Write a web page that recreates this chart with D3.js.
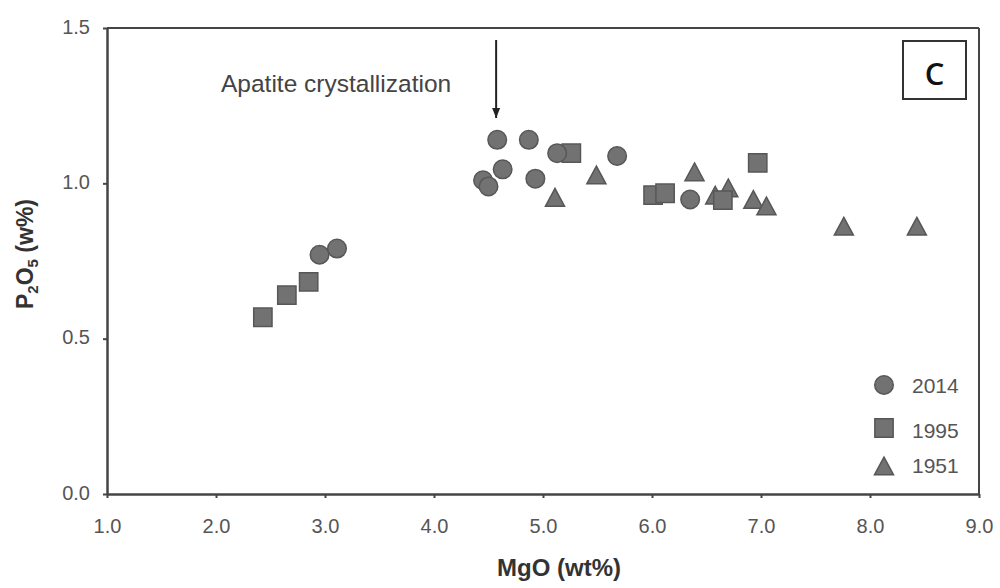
<!DOCTYPE html>
<html>
<head>
<meta charset="utf-8">
<script src="https://cdn.jsdelivr.net/npm/d3@7"></script>
<style>
  body { margin: 0; background: #fff; }
  svg { display: block; font-family: "Liberation Sans", Arial, sans-serif; }
</style>
</head>
<body>
<svg id="chart" width="1000" height="588"></svg>
<script>
// ---- Data ----
const seriesNames = ["2014", "1995", "1951"];
const mgo2014 = [4.58, 4.87, 4.63, 4.45, 4.50, 4.93, 5.13, 5.68, 6.35, 2.95, 3.11];
const p2o5_2014 = [1.14, 1.14, 1.045, 1.01, 0.99, 1.015, 1.097, 1.088, 0.948, 0.77, 0.79];
const mgo1995 = [5.26, 6.01, 6.12, 6.65, 6.97, 2.43, 2.65, 2.85];
const p2o5_1995 = [1.097, 0.962, 0.968, 0.946, 1.066, 0.569, 0.64, 0.683];
const mgo1951 = [5.11, 5.49, 6.39, 6.58, 6.70, 6.93, 7.05, 7.76, 8.43];
const p2o5_1951 = [0.955, 1.027, 1.037, 0.962, 0.985, 0.948, 0.927, 0.862, 0.862];
const xTicks = [1, 2, 3, 4, 5, 6, 7, 8, 9];
const yTicks = [0, 0.5, 1.0, 1.5];
const annotationText = "Apatite crystallization";
const annotationX = 4.57;
const panelLabel = "C";

// ---- Layout ----
const svg = d3.select("#chart");
const mLeft = 107, mRight = 979, mTop = 28, mBottom = 494;
const x = d3.scaleLinear().domain([1, 9]).range([mLeft, mRight]);
const y = d3.scaleLinear().domain([0, 1.5]).range([mBottom, mTop]);

const axisColor = "#454545";
const textColor = "#555";
const fillColor = "#727272";
const strokeColor = "#575757";

// Frame (top and right)
svg.append("line").attr("x1", mLeft).attr("x2", mRight).attr("y1", mTop).attr("y2", mTop)
  .attr("stroke", axisColor).attr("stroke-width", 2);
svg.append("line").attr("x1", mRight).attr("x2", mRight).attr("y1", mTop).attr("y2", mBottom)
  .attr("stroke", axisColor).attr("stroke-width", 2);

// X axis
const xAxis = svg.append("g").attr("transform", `translate(0,${mBottom})`)
  .call(d3.axisBottom(x).tickValues(xTicks).tickFormat(d3.format(".1f")).tickSizeInner(4).tickSizeOuter(0).tickPadding(21));
xAxis.select(".domain").attr("stroke", axisColor).attr("stroke-width", 2.5);
xAxis.selectAll(".tick line").attr("stroke", axisColor).attr("stroke-width", 2);
xAxis.selectAll(".tick text").attr("fill", textColor)
  .style("font-size", "20px").style("font-family", "Liberation Sans, Arial, sans-serif");

// Y axis
const yAxis = svg.append("g").attr("transform", `translate(${mLeft},0)`)
  .call(d3.axisLeft(y).tickValues(yTicks).tickFormat(d3.format(".1f")).tickSizeInner(4).tickSizeOuter(0).tickPadding(13));
yAxis.select(".domain").attr("stroke", axisColor).attr("stroke-width", 2.5);
yAxis.selectAll(".tick line").attr("stroke", axisColor).attr("stroke-width", 2);
yAxis.selectAll(".tick text").attr("fill", textColor).attr("dy", "0.25em")
  .style("font-size", "20px").style("font-family", "Liberation Sans, Arial, sans-serif");

// Axis titles
svg.append("text").attr("x", 559).attr("y", 576).attr("text-anchor", "middle")
  .style("font-size", "24px").attr("font-weight", "bold").attr("fill", "#333").text("MgO (wt%)");

const yTitle = svg.append("text").attr("transform", "translate(33,254) rotate(-90)")
  .attr("text-anchor", "middle").style("font-size", "23px").attr("font-weight", "bold").attr("fill", "#333");
yTitle.append("tspan").text("P");
yTitle.append("tspan").style("font-size", "15px").attr("dy", 5).text("2");
yTitle.append("tspan").attr("dy", -5).text("O");
yTitle.append("tspan").style("font-size", "15px").attr("dy", 5).text("5");
yTitle.append("tspan").attr("dy", -5).text(" (w%)");

// Markers
const triType = {
  draw(ctx, size) {
    const w = Math.sqrt(size) * 1.1, h = w * 0.93;
    ctx.moveTo(0, -h / 2);
    ctx.lineTo(w / 2, h / 2);
    ctx.lineTo(-w / 2, h / 2);
    ctx.closePath();
  }
};
const symCircle = d3.symbol().type(d3.symbolCircle).size(270);
const symSquare = d3.symbol().type(d3.symbolSquare).size(335);
const symTri = d3.symbol().type(triType).size(300);

function drawSeries(xs, ys, sym) {
  const pts = xs.map((v, i) => [v, ys[i]]);
  svg.append("g").selectAll("path").data(pts).join("path")
    .attr("d", sym)
    .attr("transform", d => `translate(${x(d[0])},${y(d[1])})`)
    .attr("fill", fillColor).attr("stroke", strokeColor).attr("stroke-width", 1.5);
}
drawSeries(mgo1951, p2o5_1951, symTri);
drawSeries(mgo1995, p2o5_1995, symSquare);
drawSeries(mgo2014, p2o5_2014, symCircle);

// Annotation arrow
const ax = x(annotationX);
svg.append("defs").append("marker").attr("id", "arrow")
  .attr("viewBox", "0 0 10 10").attr("refX", 10).attr("refY", 5)
  .attr("markerWidth", 5).attr("markerHeight", 5).attr("orient", "auto")
  .append("path").attr("d", "M0,1 L10,5 L0,9 Z").attr("fill", "#222");
svg.append("line").attr("x1", ax).attr("x2", ax).attr("y1", 40).attr("y2", 118)
  .attr("stroke", "#222").attr("stroke-width", 2).attr("marker-end", "url(#arrow)");
svg.append("text").attr("x", 221).attr("y", 92).style("font-size", "24.5px")
  .attr("fill", "#444").text(annotationText);

// Panel label box
svg.append("rect").attr("x", 903).attr("y", 41).attr("width", 63).attr("height", 58)
  .attr("fill", "#fff").attr("stroke", "#333").attr("stroke-width", 2);
svg.append("text").attr("x", 934.5).attr("y", 85).attr("text-anchor", "middle")
  .style("font-size", "31px").attr("font-weight", 600).attr("font-family", "Open Sans, Liberation Sans, sans-serif")
  .attr("fill", "#111").text(panelLabel);

// Legend
const legendSyms = [symCircle, symSquare, symTri];
const legendY = [385, 428, 466];
const legendTextY = [393, 438, 473];
seriesNames.forEach((name, i) => {
  svg.append("path").attr("d", legendSyms[i]).attr("transform", `translate(884,${legendY[i]})`)
    .attr("fill", fillColor).attr("stroke", strokeColor).attr("stroke-width", 1.5);
  svg.append("text").attr("x", 912).attr("y", legendTextY[i]).style("font-size", "21px")
    .attr("fill", textColor).text(name);
});
</script>
</body>
</html>
